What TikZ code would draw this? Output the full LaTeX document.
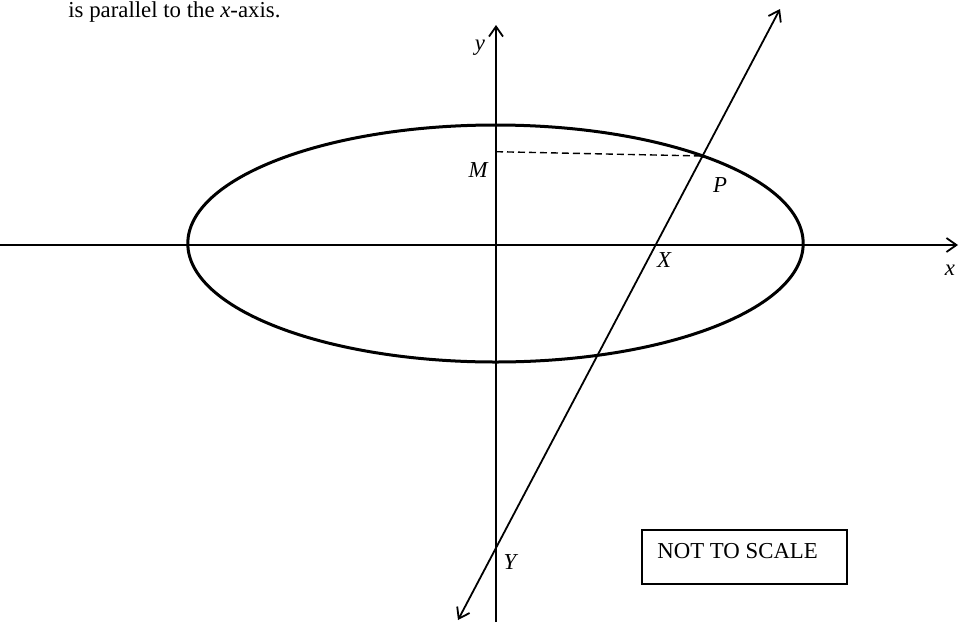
\documentclass[tikz,border=0pt]{standalone}
\usepackage{fontspec}
\setmainfont{Liberation Serif}
\usetikzlibrary{arrows.meta}
\begin{document}
\begin{tikzpicture}[x=0.5pt,y=-0.5pt,
  axis/.style={line width=0.75pt},
  curve/.style={line width=1.5pt},
  secant/.style={line width=0.9pt},
  barb/.style={-{Straight Barb[length=5pt,width=7pt,line width=0.9pt]}},
  lbl/.style={font=\fontsize{11.4}{13}\selectfont\itshape, inner sep=0pt},
  txt/.style={font=\fontsize{11.4}{13}\selectfont, inner sep=0pt}]
\useasboundingbox (0,0) rectangle (959,622);
% coordinates
\coordinate (xl) at (0,245);
\coordinate (xr) at (958,245);
\coordinate (yb) at (496,622);
\coordinate (yt) at (496,25);
\coordinate (O) at (495.5,243.5);
\coordinate (Lb) at (458,620);
\coordinate (Lt) at (780,9);
\coordinate (M) at (496,151.7);
\coordinate (P) at (702.5,156);
% heading
\node[txt, anchor=base west] (head) at (68,17) {is parallel to the \textit{x}-axis.};
% axes
\draw[axis, barb] (xl) -- (xr);
\draw[axis, barb] (yb) -- (yt);
% ellipse
\draw[curve] (O) ellipse [x radius=307.7, y radius=118.5];
% secant line
\draw[secant, {Straight Barb[length=5pt,width=7pt,line width=0.9pt]}-{Straight Barb[length=5pt,width=7pt,line width=0.9pt]}] (Lb) -- (Lt);
% dashed line
\draw[line width=0.7pt, dash pattern=on 3.5pt off 2pt] (M) -- (P);
\fill (P) circle [radius=2];
% labels
\node[lbl] (ylab) at (480,48) {y};
\node[lbl] (xlab) at (950,270) {x};
\node[lbl] (Mlab) at (478,170) {M};
\node[lbl] (Plab) at (720,185) {P};
\node[lbl] (Xlab) at (664,260) {X};
\node[lbl] (Ylab) at (510,562) {Y};
% box
\draw[line width=0.75pt] (642,530) rectangle (847,584);
\node[txt, anchor=base west] (nts) at (657,558) {NOT TO SCALE};
\end{tikzpicture}
\end{document}
